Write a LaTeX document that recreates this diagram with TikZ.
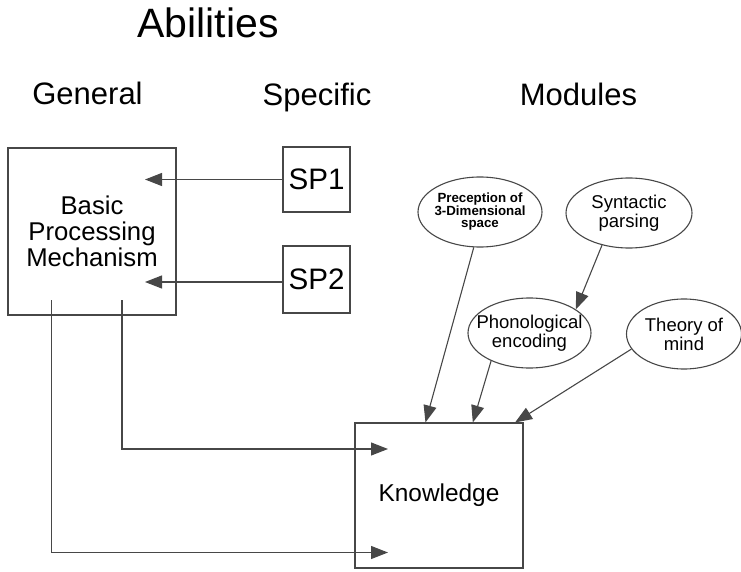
\documentclass[tikz,border=0pt]{standalone}
\usepackage{fontspec}
\setmainfont{Liberation Sans}
\usetikzlibrary{shapes.geometric,arrows.meta,calc}

\begin{document}
\begin{tikzpicture}[x=1pt,y=-1pt,line width=1.1pt,
  box/.style={draw=black!72,rectangle,inner sep=0pt,align=center},
  module/.style={draw=black!72,ellipse,inner xsep=-14pt,inner ysep=-10pt,minimum height=70pt,
    align=center,font=\fontsize{18.5}{19}\selectfont},
  head/.style={anchor=base,font=\fontsize{31}{36}\selectfont},
  link/.style={draw=black!72,-{Triangle[length=17pt,width=13pt]}}]

\useasboundingbox (0,0) rectangle (741,572);

% column headings
\node[anchor=base,font=\fontsize{41}{48}\selectfont] (abil) at (208,38) {Abilities};
\node[head] (gen) at (87.5,105) {General};
\node[head] (spec) at (317,106) {Specific};
\node[head] (mods) at (578.5,106) {Modules};

% boxes
\node[box,minimum width=168pt,minimum height=167pt,font=\fontsize{25.7}{26}\selectfont] (bpm) at (92,231.5) {Basic\\Processing\\Mechanism};
\node[box,minimum width=67pt,minimum height=65pt,font=\fontsize{29.6}{32}\selectfont] (sp1) at (316.5,179.5) {SP1};
\node[box,minimum width=67pt,minimum height=67pt,font=\fontsize{29.6}{32}\selectfont] (sp2) at (316.5,279.5) {SP2};
\node[box,minimum width=168pt,minimum height=145pt,font=\fontsize{24.4}{26}\selectfont] (kno) at (439,495.5) {Knowledge};

% modules
\node[module,minimum width=124pt,font=\bfseries\fontsize{13.3}{12.5}\selectfont] (prec) at (480,212) {Preception of\\3-Dimensional\\space};
\node[module,minimum width=126pt] (syn) at (629,213) {Syntactic\\parsing};
\node[module,minimum width=123pt] (pho) at (529.5,333) {Phonological\\encoding};
\node[module,minimum width=115pt] (tom) at (684,334) {Theory of\\mind};

% arrow ends inside the boxes
\coordinate (bpm in1) at (145,179.5);
\coordinate (bpm in2) at (145,282);
\coordinate (bpm out1) at (122,300);
\coordinate (bpm out2) at (51.5,300);
\coordinate (kno in1) at (388,449);
\coordinate (kno in2) at (388,552.5);

\draw[link] (sp1.west |- bpm in1) -- (bpm in1);
\draw[link] (sp2.west |- bpm in2) -- (bpm in2);
\draw[link] (bpm out1) |- (kno in1);
\draw[link] (bpm out2) |- (kno in2);

\draw[link] (prec.260) -- ($(kno.north west)!0.42!(kno.north east)$);
\draw[link] (syn.230) -- (pho.27);
\draw[link] (pho.216) -- ($(kno.north west)!0.70!(kno.north east)$);
\draw[link] (tom.196) -- ($(kno.north west)!0.95!(kno.north east)$);

\end{tikzpicture}
\end{document}
